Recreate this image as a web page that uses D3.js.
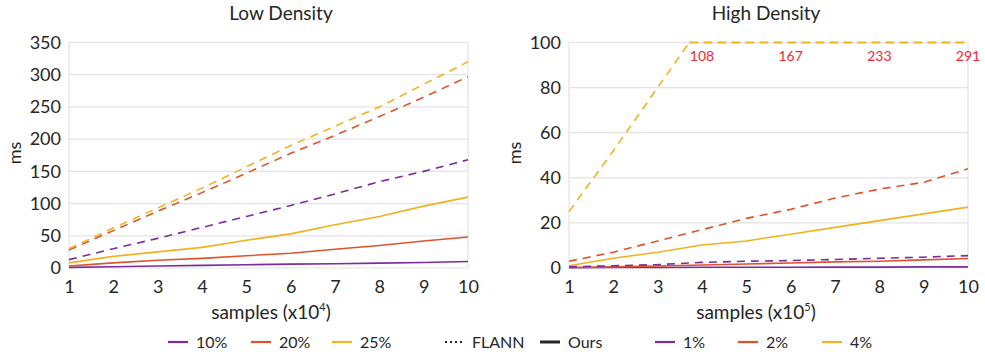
<!DOCTYPE html>
<html>
<head>
<meta charset="utf-8">
<script src="https://cdn.jsdelivr.net/npm/d3@7"></script>
<style>
    body { margin: 0; background: #fff; }
    svg text { font-family: Lato, "Open Sans", sans-serif; fill: #262626; }
</style>
</head>
<body>
<svg id="chart" width="985" height="355"></svg>
<script>
"use strict";

// Data

var samples = [1, 2, 3, 4, 5, 6, 7, 8, 9, 10];

// Low density (x10^4 samples)
var lowFlann10 = [13, 30, 46, 63, 80, 97, 115, 134, 150, 168],
    lowFlann20 = [28, 58, 88, 117, 147, 178, 206, 235, 265, 297],
    lowFlann25 = [30, 62, 93, 124, 157, 190, 220, 250, 285, 320],
    lowOurs10 = [1, 2, 3, 4, 5, 6, 6.5, 7.5, 8.5, 10],
    lowOurs20 = [3, 8, 12, 15, 19, 23, 29, 35, 42, 48],
    lowOurs25 = [8, 18, 25, 32, 43, 53, 67, 80, 96, 110];

// High density (x10^5 samples)
var highFlann1 = [0.5, 1, 1.5, 2.5, 3, 3.3, 3.8, 4.3, 4.8, 5.5],
    highFlann2 = [3, 7, 12, 17, 22, 26, 31, 35, 38, 44],
    highFlann4 = [25, 52, 80, 108, 137, 167, 200, 233, 262, 291],
    highOurs1 = [0.1, 0.2, 0.2, 0.3, 0.3, 0.3, 0.4, 0.4, 0.5, 0.5],
    highOurs2 = [0.2, 0.5, 0.9, 1.3, 1.8, 2.2, 2.7, 3, 3.6, 4.2],
    highOurs4 = [1, 4.3, 7, 10.2, 12, 15, 18, 21, 24, 27];

var lowTicks = [0, 50, 100, 150, 200, 250, 300, 350],
    highTicks = [0, 20, 40, 60, 80, 100],
    overflowLabels = [4, 6, 8, 10]; // x positions where clipped values get printed

var legendItems = [
    { label: "10%", color: "#7b2d9e", kind: "line" },
    { label: "20%", color: "#e0522a", kind: "line" },
    { label: "25%", color: "#f0b21f", kind: "line" },
    { label: "FLANN", color: "#262626", kind: "dots" },
    { label: "Ours", color: "#262626", kind: "solid" },
    { label: "1%", color: "#7b2d9e", kind: "line" },
    { label: "2%", color: "#e0522a", kind: "line" },
    { label: "4%", color: "#f0b21f", kind: "line" }
];

var PURPLE = "#7b2d9e", RED = "#e0522a", ORANGE = "#f0b21f";

var svg = d3.select("#chart");

function drawPanel(opts) {
    var x = d3.scaleLinear().domain([1, 10]).range([opts.left, opts.right]),
        y = d3.scaleLinear().domain([0, opts.yMax]).range([268, 42.5]),
        g = svg.append("g");

    // gridlines + frame
    g.append("g").selectAll("line")
        .data(opts.ticks)
        .enter().append("line")
        .attr("x1", opts.left).attr("x2", opts.right)
        .attr("y1", function (d) { return y(d); })
        .attr("y2", function (d) { return y(d); })
        .attr("stroke", "#e3e3e3").attr("stroke-width", 1.2);
    g.append("g").selectAll("line")
        .data([1, 10])
        .enter().append("line")
        .attr("x1", function (d) { return x(d); })
        .attr("x2", function (d) { return x(d); })
        .attr("y1", y(0)).attr("y2", y(opts.yMax))
        .attr("stroke", "#e3e3e3").attr("stroke-width", 1.2);

    // axes (labels only, no domain / ticks)
    var yAxis = g.append("g")
        .attr("transform", "translate(" + (opts.left - 8) + ",0)")
        .call(d3.axisLeft(y).tickValues(opts.ticks).tickSize(0).tickPadding(0));
    var xAxis = g.append("g")
        .attr("transform", "translate(0," + (y(0) + 8) + ")")
        .call(d3.axisBottom(x).tickValues(samples).tickSize(0).tickPadding(0));
    [yAxis, xAxis].forEach(function (a) {
        a.select(".domain").remove();
        a.selectAll("text")
            .attr("font-family", "Lato, 'Open Sans', sans-serif")
            .attr("font-size", 18)
            .attr("fill", "#262626");
    });
    xAxis.selectAll("text").attr("dy", "0.95em");

    // titles
    g.append("text")
        .attr("x", opts.titleX).attr("y", 20)
        .attr("text-anchor", "middle")
        .attr("font-size", 19)
        .text(opts.title);
    g.append("text")
        .attr("transform", "translate(" + (opts.left - 48) + ",153) rotate(-90)")
        .attr("text-anchor", "middle")
        .attr("font-size", 18)
        .text("ms");
    var xl = g.append("text")
        .attr("x", opts.titleX - 10).attr("y", 319)
        .attr("text-anchor", "middle")
        .attr("font-size", 19)
        .text("samples (x10");
    xl.append("tspan").attr("font-size", 11).attr("dy", -8).text(opts.exponent);
    xl.append("tspan").attr("dy", 8).text(")");

    // series
    var clipId = "clip" + opts.exponent;
    svg.append("clipPath").attr("id", clipId)
        .append("rect")
        .attr("x", opts.left - 2).attr("y", y(opts.yMax))
        .attr("width", opts.right - opts.left + 4)
        .attr("height", y(0) - y(opts.yMax) + 2);

    var line = d3.line()
        .x(function (d, i) { return x(samples[i]); })
        .y(function (d) { return y(d); });

    g.append("g").attr("clip-path", "url(#" + clipId + ")")
        .selectAll("path")
        .data(opts.series)
        .enter().append("path")
        .attr("d", function (s) { return line(s.values); })
        .attr("fill", "none")
        .attr("stroke", function (s) { return s.color; })
        .attr("stroke-width", 1.6)
        .attr("stroke-dasharray", function (s) { return s.dashed ? "8,6" : null; });

    return { x: x, y: y, g: g };
}

var low = drawPanel({
    left: 69, right: 468, yMax: 350, ticks: lowTicks,
    title: "Low Density", titleX: 281, exponent: "4",
    series: [
        { values: lowOurs10, color: PURPLE },
        { values: lowOurs20, color: RED },
        { values: lowOurs25, color: ORANGE },
        { values: lowFlann10, color: PURPLE, dashed: true },
        { values: lowFlann20, color: RED, dashed: true },
        { values: lowFlann25, color: ORANGE, dashed: true }
    ]
});

var high = drawPanel({
    left: 569, right: 968, yMax: 100, ticks: highTicks,
    title: "High Density", titleX: 766, exponent: "5",
    series: [
        { values: highOurs1, color: PURPLE },
        { values: highOurs2, color: RED },
        { values: highOurs4, color: ORANGE },
        { values: highFlann1, color: PURPLE, dashed: true },
        { values: highFlann2, color: RED, dashed: true },
        { values: highFlann4, color: ORANGE, dashed: true }
    ]
});

// the 4% FLANN series runs off the top: flat dashed cap at 100 from where it crosses
var i = highFlann4.findIndex(function (v) { return v > 100; }),
    crossAt = samples[i - 1] + (100 - highFlann4[i - 1]) / (highFlann4[i] - highFlann4[i - 1]);
high.g.append("line")
    .attr("x1", high.x(crossAt)).attr("x2", high.x(10))
    .attr("y1", high.y(100)).attr("y2", high.y(100))
    .attr("stroke", ORANGE).attr("stroke-width", 2.2)
    .attr("stroke-dasharray", "9,5");

high.g.selectAll("text.overflow")
    .data(overflowLabels)
    .enter().append("text")
    .attr("class", "overflow")
    .attr("x", function (d) { return high.x(d); })
    .attr("y", high.y(100) + 18)
    .attr("text-anchor", "middle")
    .attr("font-size", 14)
    .style("fill", "#ee2a36")
    .text(function (d) { return highFlann4[samples.indexOf(d)]; });

// legend
var legendX = [168, 251, 332, 445, 540, 655, 738, 822];
var legend = svg.append("g").selectAll("g")
    .data(legendItems)
    .enter().append("g")
    .attr("transform", function (d, k) { return "translate(" + legendX[k] + ",342)"; });

legend.append("line")
    .attr("x1", 0).attr("x2", 20)
    .attr("y1", 0).attr("y2", 0)
    .attr("stroke", function (d) { return d.color; })
    .attr("stroke-width", function (d) { return d.kind === "solid" ? 3 : (d.kind === "dots" ? 2 : 2.2); })
    .attr("stroke-dasharray", function (d) { return d.kind === "dots" ? "2,3" : null; });

legend.append("text")
    .attr("x", function (d) { return d.kind === "dots" ? 27 : 28; })
    .attr("y", 0)
    .attr("dy", "0.35em")
    .attr("font-size", 16)
    .text(function (d) { return d.label; });
</script>
</body>
</html>
